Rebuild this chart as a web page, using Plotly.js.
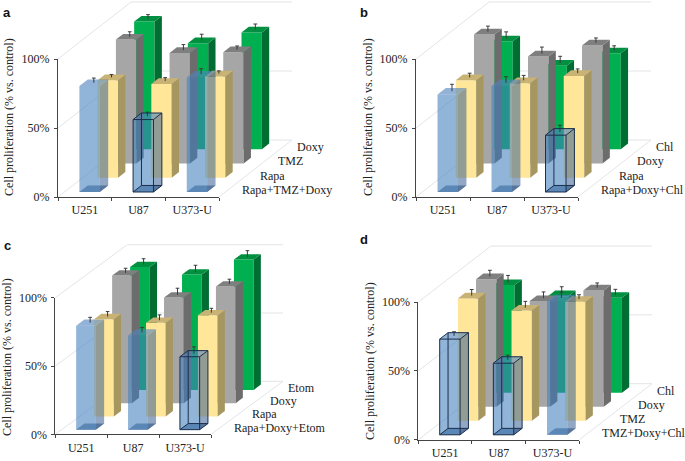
<!DOCTYPE html>
<html><head><meta charset="utf-8">
<script src="https://cdn.plot.ly/plotly-3.0.1.min.js"></script>
<style>html,body{margin:0;padding:0;background:#fff}</style></head>
<body><div id="chart" style="width:685px;height:461px"></div>
<script>
const cellLines = ['U251','U87','U373-U'];
const yTicks = [0,50,100];

const aLabels = ['Rapa+TMZ+Doxy','Rapa','TMZ','Doxy'];
const aCombo = [76.8,52.5,83], aComboErr = [3.4,3,4];
const aRapa  = [70.7,68,73.4], aRapaErr  = [2,2.5,2];
const aTmz   = [89.8,80.1,80.6], aTmzErr = [3.6,4,2.5];
const aDoxy  = [92.5,76.8,84.7], aDoxyErr = [3,4.5,4];
const aHighlighted = [0,1,0];

const bLabels = ['Rapa+Doxy+Chl','Rapa','Doxy','Chl'];
const bCombo = [70.7,76.8,41.2], bComboErr = [5,4.4,4.8];
const bRapa  = [70.7,68.5,73.8], bRapaErr  = [3,3.6,3];
const bDoxy  = [93.5,77.5,85.5], bDoxyErr  = [4,4.8,3.4];
const bChl   = [78.2,60.5,69.5], bChlErr   = [4.8,4.8,3.4];
const bHighlighted = [0,0,1];

const cLabels = ['Rapa+Doxy+Etom','Rapa','Doxy','Etom'];
const cCombo = [76.1,69,53.4], cComboErr = [3.9,3.6,5];
const cRapa  = [71.2,68.5,74], cRapaErr  = [3.6,3.9,3.2];
const cDoxy  = [93.4,77.3,85.4], cDoxyErr = [3.4,4.9,3.4];
const cEtom  = [90,84.4,95.4], cEtomErr  = [4.1,4.9,4.6];
const cHighlighted = [0,0,1];

const dLabels = ['TMZ+Doxy+Chl','TMZ','Doxy','Chl'];
const dCombo = [69.5,52,97], dComboErr = [3,3.5,4.4];
const dTmz   = [88.9,80.1,86.4], dTmzErr = [4.4,4.6,3.1];
const dDoxy  = [92.7,76.8,84.5], dDoxyErr = [4.4,4.6,3.4];
const dChl   = [78.2,70.2,69], dChlErr   = [5,4.8,4.1];
const dHighlighted = [1,1,0];

const W = 685, H = 461;
const serif = 'Liberation Serif';
const textSize = 12;
const rowFaces = [
  {front:'rgba(66,125,190,0.58)', side:'rgba(55,95,145,0.55)', top:'rgba(80,130,190,0.62)', floor:'#7F93AE', thick:0.115},
  {front:'#FFE699', side:'#A69761', top:'#C8B274', thick:0.1},
  {front:'#A6A6A6', side:'#6C6C6C', top:'#7F7F7F', thick:0.1},
  {front:'#00B050', side:'#006E33', top:'#009040', thick:0.1}
];

const panels = [
  {letter:'a', lx:7, ly:13, tx:9, ty:117, x0:58, y0:197, y100:59, xEnd:219, dxp:73, dyp:57, right:340,
   labels:aLabels, hi:aHighlighted, vals:[aCombo,aRapa,aTmz,aDoxy], errs:[aComboErr,aRapaErr,aTmzErr,aDoxyErr]},
  {letter:'b', lx:364, ly:13, tx:368, ty:117, x0:416, y0:197, y100:59, xEnd:578, dxp:73, dyp:57, right:684,
   labels:bLabels, hi:bHighlighted, vals:[bCombo,bRapa,bDoxy,bChl], errs:[bComboErr,bRapaErr,bDoxyErr,bChlErr]},
  {letter:'c', lx:8, ly:246, tx:7, ty:357, x0:55.3, y0:434.3, y100:297.7, xEnd:211, dxp:72, dyp:53, right:340,
   labels:cLabels, hi:cHighlighted, vals:[cCombo,cRapa,cDoxy,cEtom], errs:[cComboErr,cRapaErr,cDoxyErr,cEtomErr]},
  {letter:'d', lx:364, ly:240, tx:370, ty:361, x0:418.3, y0:439.7, y100:302, xEnd:579.3, dxp:72.7, dyp:56, right:684,
   labels:dLabels, hi:dHighlighted, vals:[dCombo,dTmz,dDoxy,dChl], errs:[dComboErr,dTmzErr,dDoxyErr,dChlErr]}
];

const traces = [];
const layout = {
  width:W, height:H, margin:{l:0,r:0,t:0,b:0}, showlegend:false,
  paper_bgcolor:'#fff', plot_bgcolor:'rgba(0,0,0,0)', annotations:[],
  font:{family:serif, size:textSize, color:'#222'}
};

panels.forEach((p,pi)=>{
  const n1 = pi*2+1, n2 = pi*2+2;
  const key = (a,n)=> a+'axis'+(n===1?'':n);
  const ref = (a,n)=> a+(n===1?'':n);
  const catW = (p.xEnd-p.x0)/3, pctH = (p.y0-p.y100)/100;
  const DX = p.dxp/catW, DY = p.dyp/pctH;
  const PX = (c,d)=> c + d*DX;
  const PY = (v,d)=> v + d*DY;

  // visible axes
  layout[key('x',n1)] = {domain:[p.x0/W,p.xEnd/W], range:[0,3], anchor:ref('y',n1), fixedrange:true,
    tickmode:'array', tickvals:[0.5,1.5,2.5], ticktext:cellLines, ticks:'', showgrid:false, zeroline:false,
    showline:true, linecolor:'#444', linewidth:1, ticklen:0, ticklabelstandoff:2, tickfont:{family:serif,size:textSize,color:'#222'},
    minor:{tickmode:'array', tickvals:[0,1,2,3], ticks:'outside', ticklen:3, tickcolor:'#444', tickwidth:1, showgrid:false}};
  layout[key('y',n1)] = {domain:[1-p.y0/H,1-p.y100/H], range:[0,100], anchor:ref('x',n1), fixedrange:true,
    tickmode:'array', tickvals:yTicks, ticktext:yTicks.map(v=>v+'%'), ticks:'outside', ticklen:3, tickcolor:'#444', ticklabelstandoff:2,
    showgrid:false, zeroline:false, showline:true, linecolor:'#444', linewidth:1, tickfont:{family:serif,size:textSize,color:'#222'}};
  traces.push({type:'scatter', mode:'none', x:[0,3], y:[0,100], xaxis:ref('x',n1), yaxis:ref('y',n1), hoverinfo:'skip'});

  // invisible projection axes, sharing the same units
  layout[key('x',n2)] = {domain:[p.x0/W,p.right/W], range:[0,(p.right-p.x0)/catW], anchor:ref('y',n2), visible:false, fixedrange:true};
  const topPx = Math.max(p.y0-220, 0);
  layout[key('y',n2)] = {domain:[1-p.y0/H,1-topPx/H], range:[0,(p.y0-topPx)/pctH], anchor:ref('x',n2), visible:false, fixedrange:true};
  const xa = ref('x',n2), ya = ref('y',n2);

  const poly = (pts,color)=> traces.push({type:'scatter', mode:'lines', x:pts.map(q=>q[0]), y:pts.map(q=>q[1]),
    fill:'toself', fillcolor:color, line:{width:0,color:color}, xaxis:xa, yaxis:ya, hoverinfo:'skip', cliponaxis:false});
  const seg = (xs,ys,color,w)=> traces.push({type:'scatter', mode:'lines', x:xs, y:ys, line:{color:color,width:w},
    connectgaps:false, xaxis:xa, yaxis:ya, hoverinfo:'skip', cliponaxis:false});

  // walls and floor guide lines
  const gx=[], gy=[];
  yTicks.forEach(v=>{
    gx.push(PX(0,0),PX(0,1),PX(3,1),null); gy.push(PY(v,0),PY(v,1),PY(v,1),null);
  });
  gx.push(PX(3,0),PX(3,1)); gy.push(PY(0,0),PY(0,1));
  seg(gx,gy,'#E3E4E8',1);

  // bars, back row first
  const barW = 0.38;
  for (let r=3;r>=0;r--){
    const f = rowFaces[r], d0 = (r+0.35)/4, d1 = d0+f.thick;
    cellLines.forEach((_,c)=>{
      const v = p.vals[r][c], e = p.errs[r][c];
      const a = c+0.28, b = a+barW;
      if (r===0) poly([[PX(a,d0),PY(0,d0)],[PX(b,d0),PY(0,d0)],[PX(b,d1),PY(0,d1)],[PX(a,d1),PY(0,d1)]], f.floor);
      const mid = (a+b)/2, dm = (d0+d1)/2, h = 0.035;
      const ex = PX(mid,dm), ey = PY(v,dm);
      poly([[PX(a,d0),PY(0,d0)],[PX(b,d0),PY(0,d0)],[PX(b,d0),PY(v,d0)],[PX(a,d0),PY(v,d0)]], f.front);
      poly([[PX(b,d0),PY(0,d0)],[PX(b,d1),PY(0,d1)],[PX(b,d1),PY(v,d1)],[PX(b,d0),PY(v,d0)]], f.side);
      poly([[PX(a,d0),PY(v,d0)],[PX(b,d0),PY(v,d0)],[PX(b,d1),PY(v,d1)],[PX(a,d1),PY(v,d1)]], f.top);
      seg([ex,ex,null,ex-h,ex+h],[ey,ey+e,null,ey+e,ey+e],'#3A3A3A',1);
      if (r===0 && p.hi[c]){
        const C = (u,dd,val)=>[PX(u,dd),PY(val,dd)];
        const loops = [
          [C(a,d0,0),C(b,d0,0),C(b,d0,v),C(a,d0,v),C(a,d0,0)],
          [C(a,d1,0),C(b,d1,0),C(b,d1,v),C(a,d1,v),C(a,d1,0)],
          [C(a,d0,0),C(a,d1,0)],[C(b,d0,0),C(b,d1,0)],[C(a,d0,v),C(a,d1,v)],[C(b,d0,v),C(b,d1,v)]
        ];
        const lx=[], ly=[];
        loops.forEach(l=>{ l.forEach(q=>{lx.push(q[0]);ly.push(q[1]);}); lx.push(null); ly.push(null); });
        seg(lx,ly,'#1B2E4B',1);
      }
    });
  }

  // row labels
  p.labels.forEach((t,i)=>{
    const d = (i+0.5)/4;
    layout.annotations.push({xref:xa, yref:ya, x:PX(3,d)+13.7/catW, y:PY(0,d), text:t, showarrow:false,
      xanchor:'left', yanchor:'middle', font:{family:serif,size:textSize,color:'#222'}, borderpad:0, borderwidth:0});
  });
  // y title and panel letter
  layout.annotations.push({xref:'paper', yref:'paper', x:p.tx/W, y:1-p.ty/H, text:'Cell proliferation (% vs. control)',
    textangle:-90, showarrow:false, xanchor:'center', yanchor:'middle', font:{family:serif,size:textSize,color:'#222'}});
  layout.annotations.push({xref:'paper', yref:'paper', x:p.lx/W, y:1-p.ly/H, text:'<b>'+p.letter+'</b>',
    showarrow:false, xanchor:'center', yanchor:'middle', font:{family:'Liberation Sans',size:13,color:'#111'}});
});

Plotly.newPlot('chart', traces, layout, {displayModeBar:false, staticPlot:true});
</script></body></html>
